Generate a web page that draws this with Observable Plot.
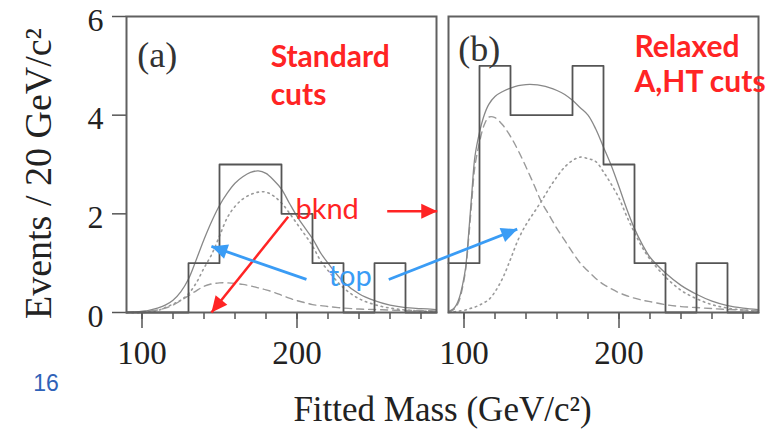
<!DOCTYPE html>
<html><head><meta charset="utf-8">
<script src="https://cdn.jsdelivr.net/npm/d3@7"></script>
<script src="https://cdn.jsdelivr.net/npm/@observablehq/plot@0.6"></script>
<style>body{margin:0;background:#fff;}</style>
</head><body><div id="chart"></div>
<script>
// ---------- data ----------
const panels = ["a", "b"];
const binStarts = [90, 110, 130, 150, 170, 190, 210, 230, 250, 270];
const binEnd = 290;
const countsA = [0, 0, 1, 3, 3, 2, 1, 0, 1, 0];
const countsB = [1, 5, 4, 4, 5, 3, 1, 0, 1, 0];

const massA  = [90,100,110,115,120,125,130,135,140,145,150,155,160,165,170,175,180,185,190,195,200,205,210,215,220,230,240,250,260,270,280,290];
const totalA = [0.0,0.02,0.09,0.15,0.25,0.42,0.68,1.07,1.48,1.85,2.17,2.42,2.62,2.75,2.84,2.87,2.82,2.68,2.5,2.22,1.95,1.72,1.5,1.22,1.0,0.62,0.38,0.24,0.15,0.1,0.08,0.06];
const topA   = [0.0,0.0,0.04,0.1,0.17,0.25,0.38,0.6,0.9,1.18,1.55,1.92,2.15,2.3,2.39,2.44,2.44,2.36,2.22,2.02,1.8,1.58,1.35,1.06,0.85,0.5,0.28,0.16,0.09,0.05,0.03,0.02];
const bkgdA  = [0.0,0.02,0.05,0.09,0.15,0.24,0.34,0.44,0.53,0.58,0.6,0.6,0.59,0.57,0.54,0.5,0.46,0.41,0.35,0.29,0.24,0.2,0.16,0.14,0.12,0.09,0.07,0.06,0.05,0.04,0.04,0.03];

const massB  = [90,93,95,97,99,101,103,105,107,110,113,116,120,125,130,135,140,145,150,155,160,165,170,175,180,185,190,195,200,205,210,215,220,230,240,250,260,270,280,290];
const totalB = [0.02,0.07,0.15,0.3,0.55,0.9,1.6,2.4,3.15,3.65,4.0,4.22,4.38,4.48,4.55,4.6,4.62,4.62,4.6,4.56,4.5,4.42,4.3,4.15,4.0,3.72,3.35,2.98,2.55,2.1,1.7,1.38,1.12,0.8,0.55,0.37,0.23,0.14,0.09,0.06];
const bkgdB  = [0.0,0.05,0.12,0.25,0.5,0.85,1.5,2.25,2.95,3.45,3.8,3.96,3.95,3.8,3.57,3.28,2.95,2.6,2.24,1.97,1.7,1.46,1.22,1.0,0.84,0.69,0.57,0.48,0.4,0.34,0.29,0.25,0.22,0.16,0.12,0.1,0.08,0.06,0.05,0.04];
const topB   = [0.0,0.01,0.02,0.03,0.04,0.05,0.07,0.09,0.11,0.15,0.2,0.26,0.42,0.7,1.08,1.48,1.78,2.02,2.26,2.52,2.75,2.95,3.08,3.15,3.12,3.06,2.85,2.6,2.32,1.95,1.62,1.32,1.08,0.72,0.45,0.28,0.16,0.09,0.05,0.03];

const majorTicks = [100, 200];
const minorTicks = [100, 120, 140, 160, 180, 200, 220, 240, 260, 280];
const yTicks = [0, 2, 4, 6];

const xLabel = "Fitted Mass (GeV/c²)";
const yLabel = "Events / 20 GeV/c²";
const pageNumber = "16";

const panelTags = [
  {panel: "a", label: "(a)", m: 97, v: 5.2},
  {panel: "b", label: "(b)", m: 96.3, v: 5.34}
];
const cutNotes = [
  {panel: "a", label: "Standard", m: 183, v: 5.18},
  {panel: "a", label: "cuts", m: 183, v: 4.4},
  {panel: "b", label: "Relaxed", m: 210, v: 5.38},
  {panel: "b", label: "A,HT cuts", m: 210, v: 4.66}
];
const bkndNote = [{panel: "a", label: "bknd", m: 199, v: 2.086}];
const topNote = [{panel: "a", label: "top", m: 220.5, v: 0.726}];
const redArrows = [
  {panel: "a", m1: 194.3, v1: 1.94, m2: 144.8, v2: 0.0},
  {panel: "a", m1: 258.2, v1: 2.05, m2: 290.5, v2: 2.05}
];
const blueArrows = [
  {panel: "a", m1: 206.1, v1: 0.67, m2: 144.8, v2: 1.34},
  {panel: "a", m1: 259.2, v1: 0.67, m2: 342.1, v2: 1.69}
];

// ---------- derived tables ----------
function stepRows(panel, counts) {
  const rows = binStarts.map((x, i) => ({panel, x, n: counts[i]}));
  rows.push({panel, x: binEnd, n: counts[counts.length - 1]});
  return rows;
}
const histRows = [...stepRows("a", countsA), ...stepRows("b", countsB)];

function curveRows(panel, mass, vals, kind) {
  return mass.map((m, i) => ({panel, m, v: vals[i], kind}));
}
const totalRows = [...curveRows("a", massA, totalA, "total"), ...curveRows("b", massB, totalB, "total")];
const bkgdRows  = [...curveRows("a", massA, bkgdA, "bkgd"),  ...curveRows("b", massB, bkgdB, "bkgd")];
const topRows   = [...curveRows("a", massA, topA, "top"),    ...curveRows("b", massB, topB, "top")];

function filledArrow(color, context) {
  const doc = (context && context.document) || document;
  const ns = "http://www.w3.org/2000/svg";
  const m = doc.createElementNS(ns, "marker");
  m.setAttribute("viewBox", "-17 -8 18 16");
  m.setAttribute("markerUnits", "userSpaceOnUse");
  m.setAttribute("markerWidth", 18);
  m.setAttribute("markerHeight", 16);
  m.setAttribute("refX", 0);
  m.setAttribute("refY", 0);
  m.setAttribute("orient", "auto");
  const p = doc.createElementNS(ns, "path");
  p.setAttribute("d", "M0,0L-16,-7.5L-16,7.5Z");
  p.setAttribute("fill", color);
  p.setAttribute("stroke", "none");
  m.appendChild(p);
  return m;
}

const RED = "#ff2424";
const BLUE = "#3a9cf5";
const SERIF = "'Liberation Serif', 'Times New Roman', serif";
const SANS = "Lato, 'Open Sans', sans-serif";

const chart = Plot.plot({
  width: 769,
  height: 440,
  marginLeft: 126,
  marginRight: 11,
  marginTop: 16,
  marginBottom: 128,
  style: {fontFamily: SERIF, background: "#fff", color: "#222", overflow: "visible"},
  fx: {domain: panels, axis: null, label: null, paddingInner: 12 / 322, paddingOuter: 0},
  x: {domain: [90, 290], label: null},
  y: {domain: [0, 6], label: null},
  marks: [
    // axes
    Plot.axisY(yTicks, {tickSize: 14, tickFormat: () => "", label: null, stroke: "#555", strokeWidth: 1.5}),
    Plot.text(yTicks, {fx: yTicks.map(() => "a"), y: d => d, frameAnchor: "left", text: d => String(d),
      textAnchor: "end", dx: -23, dy: 4, fontSize: 32, fill: "#222"}),
    Plot.axisX(minorTicks, {tickSize: 7, tickFormat: () => "", label: null, stroke: "#555", strokeWidth: 1.5}),
    Plot.axisX(majorTicks, {tickSize: 16, tickPadding: 12, fontSize: 33, label: null, stroke: "#555", strokeWidth: 1.5, fill: "#222"}),
    // curves
    Plot.line(topRows, {x: "m", y: "v", fx: "panel", curve: "catmull-rom", stroke: "#9a9a9a", strokeWidth: 1.6, strokeDasharray: "1.5,4", strokeLinecap: "round"}),
    Plot.line(bkgdRows, {x: "m", y: "v", fx: "panel", curve: "catmull-rom", stroke: "#9a9a9a", strokeWidth: 1.4, strokeDasharray: "7,5"}),
    Plot.line(totalRows, {x: "m", y: "v", fx: "panel", curve: "catmull-rom", stroke: "#888", strokeWidth: 1.3}),
    // histogram
    Plot.line(histRows, {x: "x", y: "n", fx: "panel", curve: "step-after", stroke: "#555", strokeWidth: 1.8}),
    Plot.frame({stroke: "#606060", strokeWidth: 2}),
    // annotations
    Plot.text(panelTags, {x: "m", y: "v", fx: "panel", text: "label", textAnchor: "start", fontSize: 36, fontFamily: SERIF, fill: "#333"}),
    Plot.text(cutNotes, {x: "m", y: "v", fx: "panel", text: "label", textAnchor: "start", fontSize: 30, fontWeight: "bold", fontFamily: SANS, fill: RED}),
    Plot.text(bkndNote, {x: "m", y: "v", fx: "panel", text: "label", textAnchor: "start", fontSize: 29, fontFamily: SANS, fill: RED}),
    Plot.text(topNote, {x: "m", y: "v", fx: "panel", text: "label", textAnchor: "start", fontSize: 29, fontFamily: SANS, fill: BLUE}),
    Plot.link(redArrows, {x1: "m1", y1: "v1", x2: "m2", y2: "v2", fx: "panel", stroke: RED, strokeWidth: 2.5, markerEnd: filledArrow}),
    Plot.link(blueArrows, {x1: "m1", y1: "v1", x2: "m2", y2: "v2", fx: "panel", stroke: BLUE, strokeWidth: 2.8, markerEnd: filledArrow}),
    // outer labels
    Plot.text([yLabel], {fx: ["a"], frameAnchor: "left", text: d => d, rotate: -90, dx: -88, dy: 9, textAnchor: "middle", fontSize: 38, fill: "#222"}),
    Plot.text([xLabel], {fx: ["a"], frameAnchor: "bottom-right", text: d => d, dx: 6, dy: 108, textAnchor: "middle", fontSize: 35, fill: "#222"}),
    Plot.text([pageNumber], {fx: ["a"], frameAnchor: "bottom-left", text: d => d, dx: -80.5, dy: 78, textAnchor: "middle", fontSize: 23, fontFamily: "'Liberation Sans', Arial, sans-serif", fill: "#2f62b8"})
  ]
});
document.getElementById("chart").appendChild(chart);
</script>
</body></html>
